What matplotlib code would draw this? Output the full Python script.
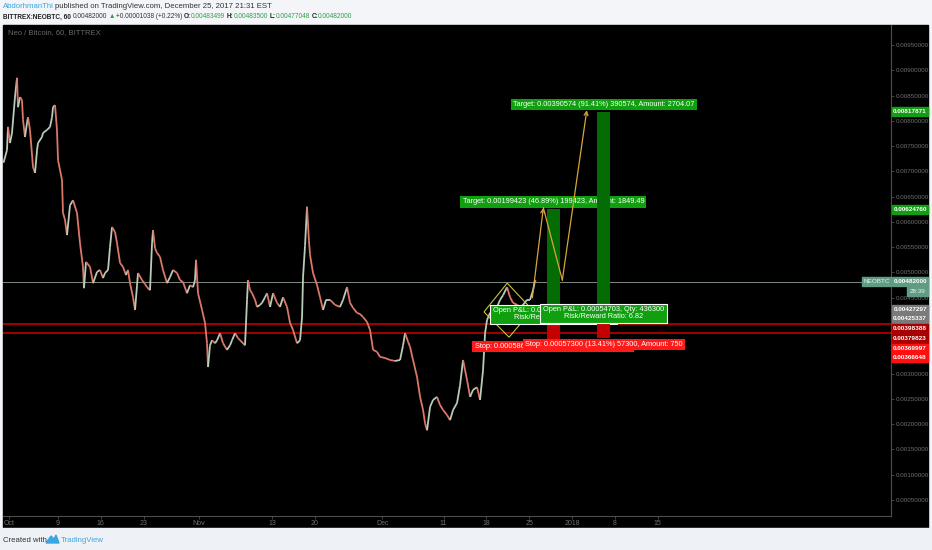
import numpy as np
import matplotlib
matplotlib.use('Agg')
import matplotlib.pyplot as plt
from matplotlib.collections import LineCollection
from matplotlib.patches import Rectangle, Polygon

W, H = 932, 550
FONT = ['Liberation Sans Narrow', 'Liberation Sans', 'DejaVu Sans']
plt.rcParams['font.family'] = FONT

# NEOBTC 60 min, Bittrex. x = days since 2017-10-01 00:00
days = [-0.9, -0.33, -0.16, 0.16, 0.49, 0.98, 1.31, 1.47, 1.80, 2.12, 2.29, 2.61, 2.94, 3.10, 3.43,
        3.92, 4.25, 4.58, 4.74, 5.39, 5.56, 6.21, 6.70, 7.03, 7.19, 7.52, 7.84, 8.01, 8.33, 8.66,
        8.82, 9.15, 9.48, 9.97, 10.46, 11.11, 11.60, 12.09, 12.25, 12.58, 13.24, 13.73, 14.38, 14.87,
        15.36, 15.69, 16.18, 16.50, 16.83, 17.32, 17.65, 18.14, 18.63, 19.12, 19.44, 19.77, 20.26,
        20.59, 20.92, 21.08, 21.73, 22.22, 22.55, 23.04, 23.37, 23.53, 23.86, 24.18, 24.67, 25.16,
        25.82, 26.31, 26.80, 27.45, 27.94, 28.43, 29.08, 29.58, 30.07, 30.39, 30.56, 30.88, 31.54,
        32.03, 32.35, 32.52, 32.84, 33.17, 33.66, 33.99, 34.48, 34.97, 35.62, 36.11, 36.44, 36.93,
        37.42, 37.75, 38.56, 38.89, 39.05, 39.38, 39.71, 40.20, 40.52, 41.01, 41.34, 41.83, 42.16,
        42.65, 43.14, 43.79, 44.28, 44.77, 45.42, 45.92, 46.41, 47.06, 47.55, 47.88, 48.04, 48.37,
        48.69, 49.00, 49.18, 49.67, 50.33, 50.82, 51.31, 51.80, 52.45, 53.27, 54.08, 54.58, 55.23,
        55.72, 56.21, 56.86, 57.35, 57.84, 58.50, 58.99, 59.48, 60.13, 60.62, 61.44, 62.25, 63.07,
        63.89, 64.38, 64.71, 65.20, 65.52, 66.01, 66.67, 67.16, 67.65, 67.97, 68.30, 68.79, 69.28,
        69.93, 70.42, 70.92, 71.57, 72.06, 72.55, 73.20, 73.69, 74.18, 74.51, 74.84, 75.33, 75.82,
        76.47, 76.96, 77.45, 77.78, 78.10, 78.59, 79.08, 79.74, 80.23, 80.72, 81.37, 81.86, 82.35,
        83.01, 83.50, 83.99, 84.64, 85.13, 85.62, 85.95, 86.05]
closes = [0.00717, 0.00742, 0.00788, 0.00756, 0.00776, 0.00847, 0.00885, 0.00827, 0.00847, 0.00841,
          0.00802, 0.00768, 0.00796, 0.00807, 0.00782, 0.00709, 0.00697, 0.00742, 0.00756, 0.00768,
          0.00776, 0.00782, 0.00788, 0.00807, 0.00827, 0.00831, 0.00782, 0.00722, 0.00703, 0.00683,
          0.00618, 0.00604, 0.00574, 0.00633, 0.00643, 0.00618, 0.00558, 0.00511, 0.00469, 0.00521,
          0.00511, 0.00479, 0.00501, 0.00505, 0.00489, 0.00499, 0.00505, 0.00550, 0.00590, 0.00580,
          0.00558, 0.00519, 0.00511, 0.00495, 0.00505, 0.00479, 0.00451, 0.00426, 0.00475, 0.00499,
          0.00485, 0.00477, 0.00471, 0.00465, 0.00558, 0.00584, 0.00548, 0.00539, 0.00531, 0.00505,
          0.00479, 0.00491, 0.00505, 0.00499, 0.00485, 0.00481, 0.00459, 0.00475, 0.00471, 0.00485,
          0.00525, 0.00459, 0.00426, 0.00400, 0.00360, 0.00313, 0.00356, 0.00366, 0.00360, 0.00366,
          0.00380, 0.00360, 0.00347, 0.00356, 0.00366, 0.00380, 0.00370, 0.00366, 0.00356, 0.00446,
          0.00485, 0.00465, 0.00459, 0.00446, 0.00432, 0.00436, 0.00440, 0.00451, 0.00459, 0.00432,
          0.00459, 0.00440, 0.00432, 0.00451, 0.00432, 0.00400, 0.00386, 0.00360, 0.00366, 0.00412,
          0.00491, 0.00554, 0.00630, 0.00564, 0.00535, 0.00499, 0.00475, 0.00451, 0.00426, 0.00446,
          0.00446, 0.00436, 0.00432, 0.00446, 0.00471, 0.00440, 0.00430, 0.00420, 0.00418, 0.00412,
          0.00402, 0.00386, 0.00347, 0.00343, 0.00333, 0.00331, 0.00327, 0.00325, 0.00327, 0.00356,
          0.00380, 0.00363, 0.00353, 0.00327, 0.00293, 0.00254, 0.00228, 0.00202, 0.00188, 0.00234,
          0.00248, 0.00254, 0.00238, 0.00228, 0.00218, 0.00208, 0.00228, 0.00242, 0.00277, 0.00327,
          0.00307, 0.00287, 0.00254, 0.00268, 0.00273, 0.00248, 0.00307, 0.00380, 0.00406, 0.00420,
          0.00426, 0.00432, 0.00446, 0.00455, 0.00471, 0.00451, 0.00440, 0.00436, 0.00432, 0.00436,
          0.00446, 0.00446, 0.00465, 0.00485, 0.00482]

last_price = 0.00482
red_levels = [0.00398388, 0.00379823]

# x axis ticks (days since Oct 1)
tick_days = [0, 8, 15, 22, 31, 43, 50, 61, 71, 78, 85, 92, 99, 106]
tick_labels = ['Oct', '9', '16', '23', 'Nov', '13', '20', 'Dec', '11', '18', '25', '2018', '8', '15']

# price scale ticks; 0.0040 and 0.0035 sit under the stacked labels
price_ticks = [0.0005, 0.0010, 0.0015, 0.0020, 0.0025, 0.0030, 0.0035, 0.0040, 0.0045, 0.0050,
               0.0055, 0.0060, 0.0065, 0.0070, 0.0075, 0.0080, 0.0085, 0.0090, 0.0095]
covered_ticks = [0.0035, 0.0040]

# two long position tools
pos_left = [87.9, 96.1]
pos_right = [90.0, 98.2]
pos_entry = [0.00425337, 0.00427297]
pos_target = [0.00624760, 0.00817871]
pos_stop = [0.00366648, 0.00369997]
target_text = ['Target: 0.00199423 (46.89%) 199423, Amount: 1849.49',
               'Target: 0.00390574 (91.41%) 390574, Amount: 2704.07']
stop_text = ['Stop: 0.00058689 (13.80%) 58689, Amount: 750',
             'Stop: 0.00057300 (13.41%) 57300, Amount: 750']
pnl_text = ['Open P&L: 0.00056663, Qty: 199423\nRisk/Reward Ratio: 3.40',
            'Open P&L: 0.00054703, Qty: 436300\nRisk/Reward Ratio: 6.82']

# drawn projection path and the diamond
path_days = [85.5, 87.3, 90.4, 94.4]
path_prices = [0.00450, 0.00628, 0.00485, 0.00821]
diamond_days = [81.4, 77.6, 81.7, 85.5]
diamond_prices = [0.00479, 0.00422, 0.00372, 0.00426]

# labels on the price scale
scale_prices = [0.00817871, 0.00624760, 0.00482000, 0.00427297, 0.00425337,
                0.00398388, 0.00379823, 0.00369997, 0.00366648]
scale_colors = ['#149c14', '#149c14', '#5f9c83', '#7a7a7a', '#7a7a7a',
                '#a80000', '#a80000', '#ff1010', '#ff1010']

UP = '#b9cbb9'
DOWN = '#dc7868'
ZONE_GREEN = '#046c04'
ZONE_RED = '#c40000'
LABEL_GREEN = '#0f9f0f'
LABEL_RED = '#ff1a1a'
PATH_COL = '#d9a43a'
AXIS_TXT = '#707070'
LBL_SIZE = 5.3


def fx(x):
    return x / W


def fy(y):
    return 1 - y / H


fig = plt.figure(figsize=(W / 100, H / 100), dpi=100, facecolor='#f3f5f8')
fig.patches.append(Rectangle((fx(3), fy(528)), fx(925), (528 - 25) / H, color='black',
                             transform=fig.transFigure, zorder=-2))
fig.patches.append(Rectangle((0, 0), 1, fy(528), color='#eef2f7', transform=fig.transFigure, zorder=-2))

ax = fig.add_axes([fx(3), fy(516), fx(888), (516 - 25) / H])
ax.set_zorder(1)
ax.set_facecolor('black')
ax.set_xlim(-0.98, 144.1)
ax.set_ylim(0.000184, 0.009895)

for s in ['top', 'left']:
    ax.spines[s].set_visible(False)
for s in ['right', 'bottom']:
    ax.spines[s].set_color('#4d4d4d')
    ax.spines[s].set_linewidth(0.8)

ax.yaxis.tick_right()
ax.set_yticks(price_ticks)
ax.set_yticklabels(['' if v in covered_ticks else '%.8f' % v for v in price_ticks])
ax.tick_params(axis='y', colors='#4d4d4d', labelcolor=AXIS_TXT, labelsize=4.5, length=2, pad=1.5, width=0.6)
ax.set_xticks(tick_days)
ax.set_xticklabels(tick_labels)
ax.tick_params(axis='x', colors='#4d4d4d', labelcolor=AXIS_TXT, labelsize=5, length=2, pad=1, width=0.6)

# price path
pts = np.column_stack([days, closes])
segs = np.stack([pts[:-1], pts[1:]], axis=1)
cols = np.where(np.diff(closes) >= 0, UP, DOWN)
ax.add_collection(LineCollection(segs, colors=cols, linewidths=1.3, zorder=3))

ax.axhline(last_price, color='#7f8c80', lw=0.7, zorder=2)
for lv in red_levels:
    ax.axhline(lv, color='#b00000', lw=1.3, zorder=2)

# diamond
ax.add_patch(Polygon(np.column_stack([diamond_days, diamond_prices]), closed=True, fill=False,
                     ec='#c4c43c', lw=0.8, zorder=4))

# position tools
for i in range(2):
    z = 5 + i * 2
    l, r = pos_left[i], pos_right[i]
    xc = (l + r) / 2
    ax.fill_between([l, r], pos_entry[i], pos_target[i], color=ZONE_GREEN, lw=0, zorder=z)
    ax.fill_between([l, r], pos_stop[i], pos_entry[i], color=ZONE_RED, lw=0, zorder=z)
    ax.annotate(target_text[i], (xc, pos_target[i]), xytext=(0, 4), textcoords='offset pixels',
                ha='center', va='bottom', color='white', fontsize=LBL_SIZE, zorder=z + 1,
                bbox=dict(boxstyle='square,pad=0.3', fc=LABEL_GREEN, ec='none'))
    ax.annotate(stop_text[i], (xc, pos_stop[i]), xytext=(0, -3), textcoords='offset pixels',
                ha='center', va='top', color='white', fontsize=LBL_SIZE, zorder=z + 1,
                bbox=dict(boxstyle='square,pad=0.3', fc=LABEL_RED, ec='none'))
    ax.annotate(pnl_text[i], (xc, pos_entry[i]), xytext=(0, -4), textcoords='offset pixels',
                ha='center', va='center', color='white', fontsize=LBL_SIZE, zorder=z + 1,
                linespacing=1.05, multialignment='center',
                bbox=dict(boxstyle='square,pad=0.35', fc=LABEL_GREEN, ec='white', lw=0.8))

# projection path with arrows
ax.annotate('', xy=(path_days[1], path_prices[1]), xytext=(path_days[0], path_prices[0]),
            arrowprops=dict(arrowstyle='->', color=PATH_COL, lw=0.9, shrinkA=0, shrinkB=0,
                            mutation_scale=7), zorder=9)
ax.plot(path_days[1:3], path_prices[1:3], color=PATH_COL, lw=0.9, zorder=9)
ax.annotate('', xy=(path_days[3], path_prices[3]), xytext=(path_days[2], path_prices[2]),
            arrowprops=dict(arrowstyle='->', color=PATH_COL, lw=0.9, shrinkA=0, shrinkB=0,
                            mutation_scale=7), zorder=9)

# labels on the price scale, stacked like TradingView does
prev = None
for p, c in zip(scale_prices, scale_colors):
    yd = ax.transData.transform((0, p))[1]
    if prev is not None and yd > prev - 9.7:
        yd = prev - 9.7
    prev = yd
    if c == '#5f9c83':
        prev = yd - 10
    ytop = H - yd
    fig.patches.append(Rectangle((fx(892), fy(ytop + 4.5)), fx(36), 9 / H, color=c,
                                 transform=fig.transFigure, zorder=5))
    fig.text(fx(910), fy(ytop), '%.8f' % p, color='white', fontsize=4.6, ha='center', va='center',
             weight='bold', zorder=6)

yl = H - ax.transData.transform((0, last_price))[1]
fig.patches.append(Rectangle((fx(862), fy(yl + 4.5)), fx(29), 9 / H, color='#5f9c83',
                             transform=fig.transFigure, zorder=5))
fig.text(fx(876.5), fy(yl), 'NEOBTC', color='#e8f2ec', fontsize=4.6, ha='center', va='center', zorder=6)
fig.patches.append(Rectangle((fx(907), fy(yl + 14)), fx(21), 9 / H, color='#5f9c83',
                             transform=fig.transFigure, zorder=5))
fig.text(fx(917.5), fy(yl + 9.5), '28:39', color='#e8f2ec', fontsize=4.6, ha='center', va='center', zorder=6)

fig.text(fx(8), fy(33), 'Neo / Bitcoin, 60, BITTREX', color='#6a6a6a', fontsize=5.5, va='center', zorder=6)

# header lines
renderer = fig.canvas.get_renderer()


def pieces(x, y, items, size):
    for s, c, w, gap in items:
        t = fig.text(fx(x), fy(y), s, color=c, fontsize=size, ha='left', va='center', weight=w)
        x += t.get_window_extent(renderer).width + gap


DARK = '#333333'
GREEN = '#2ea043'
pieces(3, 7, [('AbdorhmanThi', '#3aa7e0', 'normal', 1.5),
              ('published on TradingView.com, December 25, 2017 21:31 EST', DARK, 'normal', 0)], 5.6)
pieces(3, 17, [('BITTREX:NEOBTC, 60', '#222222', 'bold', 1.5), ('0.00482000', DARK, 'normal', 1.5),
               ('\u25b2', GREEN, 'normal', 1.5), ('+0.00001038 (+0.22%)', DARK, 'normal', 1.5),
               ('O:', '#222222', 'bold', 0), ('0.00483499', GREEN, 'normal', 1.5),
               ('H:', '#222222', 'bold', 0), ('0.00483500', GREEN, 'normal', 1.5),
               ('L:', '#222222', 'bold', 0), ('0.00477048', GREEN, 'normal', 1.5),
               ('C:', '#222222', 'bold', 0), ('0.00482000', GREEN, 'normal', 0)], 4.7)

# footer
fig.text(fx(3), fy(540), 'Created with', color='#333333', fontsize=5.6, va='center')
fig.patches.append(Polygon([[fx(46), fy(543)], [fx(51), fy(536)], [fx(54), fy(539)], [fx(56), fy(535)],
                            [fx(59), fy(543)]], closed=True, color='#3aa7e0', transform=fig.transFigure))
fig.text(fx(61), fy(540), 'TradingView', color='#3aa7e0', fontsize=5.6, va='center')

fig.savefig('out.png', dpi=100, facecolor=fig.get_facecolor())
